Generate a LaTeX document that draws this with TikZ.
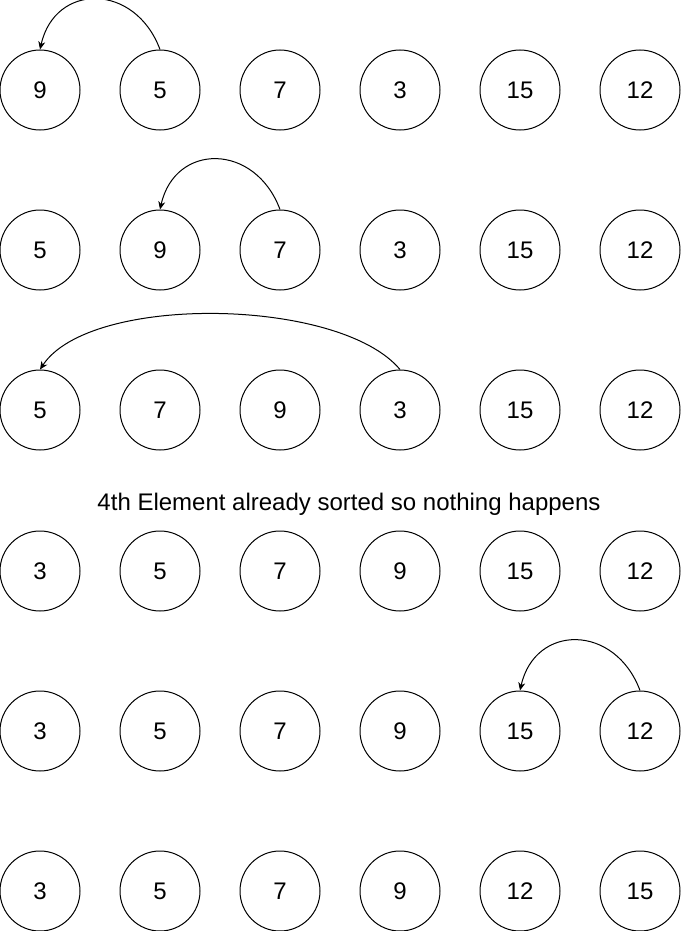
\documentclass[tikz,border=0pt]{standalone}
\usepackage{fontspec}
\setmainfont{Liberation Sans}
\usetikzlibrary{arrows.meta}
\begin{document}
\begin{tikzpicture}[x=1pt,y=-1pt,
  elem/.style={draw,circle,minimum size=80pt,inner sep=0pt,line width=1pt,font=\fontsize{24}{28}\selectfont},
  moveto/.style={-{Stealth[length=8pt,width=7pt,inset=2.5pt]},line width=1pt},
  note/.style={font=\fontsize{24}{28}\selectfont,inner sep=0pt,anchor=base}]
\useasboundingbox (0,0) rectangle (681,931);
\foreach \r/\y/\vals in {1/90/{9,5,7,3,15,12},2/250/{5,9,7,3,15,12},3/410/{5,7,9,3,15,12},4/571/{3,5,7,9,15,12},5/731/{3,5,7,9,15,12},6/891/{3,5,7,9,12,15}}{
  \foreach \v [count=\c] in \vals {
    \node[elem] (r\r c\c) at ({40+120*(\c-1)},\y) {\v};
  }
}
\node[note] (msg) at (349,510) {4th Element already sorted so nothing happens};
\draw[moveto] (r1c2.north) .. controls +(-25,-67) and +(15,-67) .. (r1c1.north);
\draw[moveto] (r2c3.north) .. controls +(-25,-67) and +(15,-67) .. (r2c2.north);
\draw[moveto] (r3c4.north) .. controls +(-60,-72) and +(50,-76) .. (r3c1.north);
\draw[moveto] (r5c6.north) .. controls +(-25,-67) and +(15,-67) .. (r5c5.north);
\end{tikzpicture}
\end{document}
